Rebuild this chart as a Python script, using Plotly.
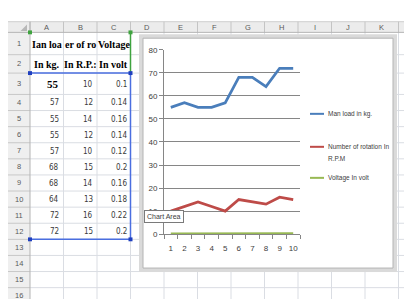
import plotly.graph_objects as go

# ---------------- data ----------------
categories = ['1', '2', '3', '4', '5', '6', '7', '8', '9', '10']
man_load = [55, 57, 55, 55, 57, 68, 68, 64, 72, 72]
rotation = [10, 12, 14, 12, 10, 15, 14, 13, 16, 15]
voltage = [0.1, 0.14, 0.16, 0.14, 0.12, 0.2, 0.16, 0.18, 0.22, 0.2]
series_names = ['Man load in kg.', 'Number of rotation In R.P.M', 'Voltage In volt']
series_colors = ['#4a7ebb', '#be4b48', '#98b954']
header_row1 = ['Ian loa', 'er of ro', 'Voltage']
header_row2 = ['In kg.', 'In R.P.:', 'In volt']
col_letters = ['A', 'B', 'C', 'D', 'E', 'F', 'G', 'H', 'I', 'J', 'K', 'L']
n_rows = 16
y_tick_step = 10
y_max = 80

# ---------------- geometry helpers (pixels -> paper) ----------------
W, H = 412, 299


def px(x):
    return x / W


def py(y):
    return 1 - y / H


col_edges = [22 + 33.5 * i for i in range(13)]
row_edges = [21, 44, 63, 85] + [85 + 16.6 * k for k in range(1, 14)]

shapes = []
annotations = []


def rect(x0, y0, x1, y1, fill=None, color=None, width=0, layer='below'):
    shapes.append(dict(type='rect', xref='paper', yref='paper',
                       x0=px(x0), x1=px(x1), y0=py(y1), y1=py(y0),
                       fillcolor=fill if fill else 'rgba(0,0,0,0)',
                       line=dict(color=color if color else 'rgba(0,0,0,0)', width=width),
                       layer=layer))


def line(x0, y0, x1, y1, color, width=1, layer='below'):
    shapes.append(dict(type='line', xref='paper', yref='paper',
                       x0=px(x0), x1=px(x1), y0=py(y0), y1=py(y1),
                       line=dict(color=color, width=width), layer=layer))


def text(x, y, s, size=8, color='#333333', family='Liberation Sans, Arial, sans-serif',
         xanchor='center', weight='normal'):
    annotations.append(dict(xref='paper', yref='paper', x=px(x), y=py(y), text=s,
                            showarrow=False, xanchor=xanchor, yanchor='middle',
                            font=dict(size=size, color=color, family=family, weight=weight)))


# ---------------- spreadsheet background ----------------
rect(0, 10, W, 21, fill='#ececec')
rect(0, 21, 22, H, fill='#efefef')
line(0, 10, W, 10, '#cfcfcf')
for xe in col_edges[1:]:
    line(xe, 21, xe, H, '#dadde3')
for ye in row_edges[1:]:
    line(22, ye, W, ye, '#dadde3')
for xe in col_edges:
    line(xe, 10, xe, 21, '#c4c4c4')
for ye in row_edges[1:]:
    line(0, ye, 22, ye, '#c8c8c8')
line(0, 21, W, 21, '#b4b4b4')
line(22, 10, 22, H, '#b4b4b4')
shapes.append(dict(type='path', xref='paper', yref='paper',
                   path=f'M {px(19)},{py(13)} L {px(19)},{py(19.5)} L {px(12.5)},{py(19.5)} Z',
                   fillcolor='#b8b8b8', line=dict(width=0), layer='below'))

for i, letter in enumerate(col_letters):
    cx = min((col_edges[i] + col_edges[i + 1]) / 2, 401)
    text(cx, 15.7, letter, size=7.5, color='#5a5a5a')
for r in range(n_rows):
    text(11, (row_edges[r] + row_edges[r + 1]) / 2, str(r + 1), size=7.5, color='#5a5a5a')

serif = 'Liberation Serif, Times New Roman, serif'
for c in range(3):
    cx = (col_edges[c] + col_edges[c + 1]) / 2
    text(cx, (row_edges[0] + row_edges[1]) / 2 + 0.5, header_row1[c], size=10,
         color='#000000', family=serif, weight='bold')
    text(cx, (row_edges[1] + row_edges[2]) / 2 + 0.5, header_row2[c], size=10,
         color='#000000', family=serif, weight='bold')

narrow = 'Liberation Sans Narrow, DejaVu Sans Condensed, Liberation Sans, Arial, sans-serif'
cols = [man_load, rotation, voltage]
right_pad = [3, 2, 1.5]
for i in range(len(categories)):
    cy = (row_edges[2 + i] + row_edges[3 + i]) / 2
    for c in range(3):
        s = f'{cols[c][i]:g}'
        xr = col_edges[c + 1] - right_pad[c]
        if i == 0 and c == 0:
            text(xr, cy, s, size=11, color='#000000', family=serif,
                 xanchor='right', weight='bold')
        else:
            text(xr, cy + 0.5, s, size=8, color='#3a3a3a', family=narrow, xanchor='right')

blue, dblue, green = '#4a6ee0', '#1f3fbf', '#3fa33f'
line(col_edges[0], row_edges[2], col_edges[3], row_edges[2], blue, 1.5)
line(col_edges[3], row_edges[2], col_edges[3], row_edges[12], blue, 1.5)
line(col_edges[0], row_edges[12], col_edges[3], row_edges[12], blue, 1.5)
line(col_edges[3], row_edges[0], col_edges[3], row_edges[2], green, 1.5)
for (qx, qy, qc) in [(col_edges[0], row_edges[2], dblue), (col_edges[3], row_edges[2], dblue),
                     (col_edges[0], row_edges[12], dblue), (col_edges[3], row_edges[12], dblue),
                     (col_edges[0], row_edges[0], green), (col_edges[3], row_edges[0], green)]:
    rect(qx - 2, qy - 2, qx + 2, qy + 2, fill=qc)

# ---------------- chart area ----------------
rect(133, 25, 387, 266, fill='#ffffff', color='#dadada', width=4)
rect(135, 27, 385, 264, color='#b4b4b4', width=1)

# ---------------- traces ----------------
fig = go.Figure()
for name, vals, colr in zip(series_names, [man_load, rotation, voltage], series_colors):
    fig.add_trace(go.Scatter(x=categories, y=vals, mode='lines', name=name,
                             line=dict(color=colr, width=2.75), showlegend=False))

legend_y = [105, 139, 171]
for name, colr, ly in zip(series_names, series_colors, legend_y):
    line(302, ly, 316, ly, colr, 2, layer='above')
    if name == series_names[1]:
        first, second = name.rsplit(' ', 1)
        text(318, ly, first, size=6.5, color='#404040', xanchor='left')
        text(318, ly + 12, second, size=6.5, color='#404040', xanchor='left')
    else:
        text(318, ly, name, size=6.5, color='#404040', xanchor='left')

annotations.append(dict(xref='paper', yref='paper', x=px(156), y=py(211), text='Chart Area',
                        showarrow=False, xanchor='center', yanchor='middle',
                        bgcolor='#ffffff', bordercolor='#7a7a7a', borderwidth=1, borderpad=2,
                        font=dict(size=7, color='#404040',
                                  family='Liberation Sans, Arial, sans-serif')))

axis_font = dict(size=8, color='#404040', family='Liberation Sans, Arial, sans-serif')
fig.update_layout(
    width=W, height=H, autosize=False,
    margin=dict(l=0, r=0, t=0, b=0),
    paper_bgcolor='#ffffff', plot_bgcolor='rgba(0,0,0,0)',
    shapes=shapes, annotations=annotations,
    xaxis=dict(domain=[px(156), px(292)], type='category', range=[-0.5, 9.5],
               showline=True, linecolor='#868686', linewidth=1,
               ticks='outside', tickson='boundaries', ticklen=4, tickcolor='#868686',
               showgrid=False, zeroline=False, tickfont=axis_font, tickangle=0,
               ticklabelstandoff=6, fixedrange=True),
    yaxis=dict(domain=[py(229), py(39)], range=[0, y_max], dtick=y_tick_step, tick0=0,
               showgrid=True, gridcolor='#868686', gridwidth=1,
               showline=True, linecolor='#868686', linewidth=1,
               ticks='outside', ticklen=4, tickcolor='#868686',
               zeroline=False, tickfont=axis_font, fixedrange=True),
    showlegend=False,
)

fig.write_html("out.html", config={'displayModeBar': False})
